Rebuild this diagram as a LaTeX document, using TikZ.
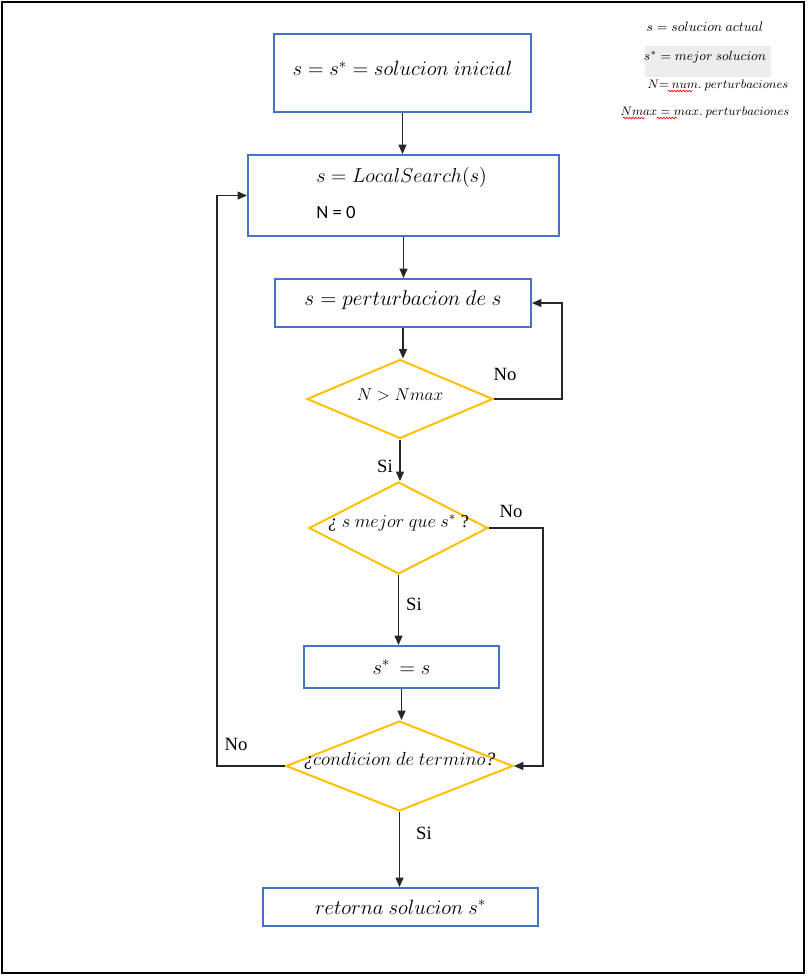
\RequirePackage{fix-cm}
\documentclass[tikz,border=0pt]{standalone}
\usepackage{fontspec}
\setmainfont{Liberation Serif}
\newfontfamily\calib{Carlito}
\usetikzlibrary{arrows.meta,shapes.geometric,decorations.pathmorphing}
\definecolor{boxblue}{HTML}{4472C4}
\definecolor{dgold}{HTML}{FFC000}
\definecolor{leggray}{HTML}{EDEDED}
\newcommand{\liftby}[2]{\raisebox{#1}[\height][\depth]{#2}}
\begin{document}
\begin{tikzpicture}[x=0.75pt,y=-0.75pt,
 procbox/.style={draw=boxblue,line width=1.5pt,inner sep=0pt,font=\fontsize{15.5}{17}\selectfont},
 decis/.style={diamond,draw=dgold,line width=1.5pt,inner sep=0pt,font=\fontsize{13.2}{15}\selectfont},
 conn/.style={draw=black!85,line width=0.8pt,-{Triangle[length=7pt,width=6pt]}},
 lbl/.style={font=\fontsize{14}{16}\selectfont,inner sep=0pt},
 legend/.style={font=\fontsize{9.25}{11}\selectfont,inner sep=0pt},
 squig/.style={draw=red,line width=0.5pt,decorate,decoration={snake,amplitude=0.6pt,segment length=2.2pt}}]
\useasboundingbox (0,0) rectangle (809,978);
\draw[line width=0.8pt] (2,2) rectangle (804,973);

% process boxes and decisions
\node[procbox,minimum width=192.75pt,minimum height=58.5pt] (b1) at (402.5,73) {\liftby{3.5pt}{$s = s^{*} = solucion\ inicial$}};
\node[procbox,minimum width=233.25pt,minimum height=60.75pt] (b2) at (403.5,195.5) {};
\node[lbl,anchor=west,font=\fontsize{15.1}{17}\selectfont] (b2a) at (316,177) {$s = LocalSearch(s)$};
\node[anchor=west,inner sep=0pt,font=\calib\fontsize{14}{16}\selectfont] (b2b) at (316,213) {N = 0};
\node[procbox,minimum width=192pt,minimum height=36pt,font=\fontsize{16}{18}\selectfont] (b3) at (403,303) {\liftby{2pt}{$s = perturbacion\ de\ s$}};
\node[decis,minimum width=139.5pt,minimum height=59.25pt,font=\fontsize{12.9}{15}\selectfont] (d1) at (400,399) {\makebox[0pt]{\liftby{3pt}{$N > Nmax$}}};
\node[decis,minimum width=134.25pt,minimum height=69pt,font=\fontsize{13.7}{15}\selectfont] (d2) at (398.5,528) {\makebox[0pt]{\liftby{4pt}{{\itshape ¿} $s\ mejor\ que\ s^{*}$ ?}}};
\node[procbox,minimum width=146.25pt,minimum height=31.5pt] (b4) at (401.5,667) {$s^{*}\, = s$};
\node[decis,minimum width=170.25pt,minimum height=67.5pt,font=\fontsize{14.2}{16}\selectfont] (d3) at (399.5,766) {\makebox[0pt]{\liftby{4pt}{{\itshape ¿}$condicion\ de\ termino${\itshape ?}}}};
\node[procbox,minimum width=206.25pt,minimum height=28.5pt] (b5) at (400.5,907) {$retorna\ solucion\ s^{*}$};

% straight connectors
\draw[conn] (b1.south) -- (b1.south |- b2.north);
\draw[conn] (b2.south) -- (b2.south |- b3.north);
\draw[conn] (b3.south) -- (b3.south |- d1.north);
\draw[conn] (d1.south) -- (d1.south |- d2.north);
\draw[conn] (d2.south) -- (d2.south |- b4.north);
\draw[conn] (b4.south) -- (b4.south |- d3.north);
\draw[conn] (d3.south) -- (d3.south |- b5.north);

% loops
\coordinate (c1) at (562,303);
\draw[conn] (d1.east) -| (c1) -- (b3.east);
\coordinate (c2) at (543,766);
\draw[conn] (d2.east) -| (c2) -- (d3.east);
\coordinate (c3) at (217,195.5);
\draw[conn] (d3.west) -| (c3) -- (b2.west);

% labels
\node[lbl] (l1) at (505,374) {No};
\node[lbl] (l2) at (385,466) {Si};
\node[lbl] (l3) at (511,511) {No};
\node[lbl] (l4) at (414,604) {Si};
\node[lbl] (l5) at (236,744) {No};
\node[lbl] (l6) at (424,833) {Si};

% legend
\node[legend,font=\fontsize{10.3}{12}\selectfont] (lg1) at (705,27) {$s = solucion\ actual$};
\fill[leggray] (645,46) rectangle (771,77);
\node[legend,font=\fontsize{9.9}{12}\selectfont] (lg2) at (705,57) {$s^{*} = mejor\ solucion$};
\node[legend] (lg3) at (718,85) {$N{=}\ num.\ perturbaciones$};
\node[legend] (lg4) at (705,112) {$Nmax = max.\ perturbaciones$};
\draw[squig] (668,91) -- (692,91);
\draw[squig] (623,118) -- (645,118);
\draw[squig] (657,118) -- (677,118);
\end{tikzpicture}
\end{document}
